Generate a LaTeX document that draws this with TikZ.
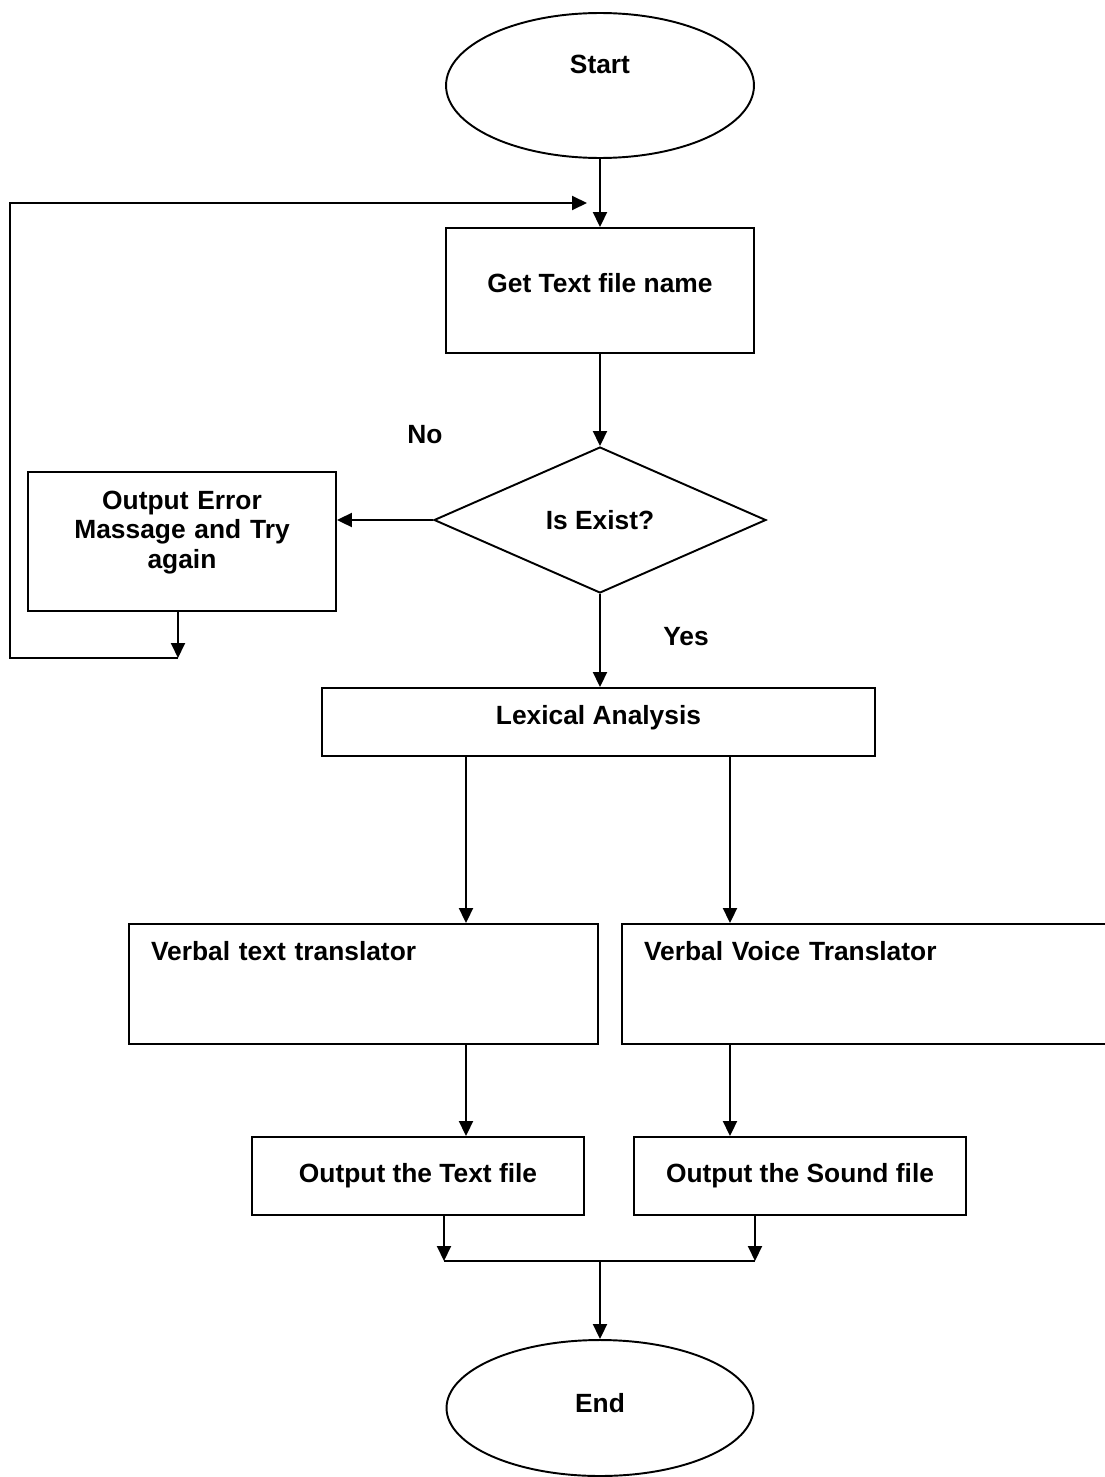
\documentclass[tikz,border=0pt]{standalone}
\usepackage{fontspec}
\setmainfont{Liberation Sans}
\usetikzlibrary{shapes.geometric,arrows.meta,positioning}
\tikzset{
  terminal/.style={
    shape = ellipse,
    draw,
    line width = 1.1pt,
    inner sep = 0pt,
    text height = 10.7pt
  },
}
\tikzset{
  process/.style={
    shape = rectangle,
    draw,
    line width = 1.1pt,
    inner sep = 0pt,
    align = center,
    text height = 10.7pt
  },
}
\tikzset{
  decision/.style={
    shape = diamond,
    draw,
    line width = 1.1pt,
    inner sep = 0pt,
    aspect = 2.27,
    minimum width = 6.64cm,
    minimum height = 2.92cm,
    text height = 10.7pt,
    text depth = 0pt
  },
}
\tikzset{
  translator/.style={
    shape = rectangle,
    draw,
    line width = 1.1pt,
    inner xsep = 0.44cm,
    inner ysep = 0pt,
    align = left,
    minimum height = 2.4cm,
    text height = 10.7pt,
    text depth = 37.6pt
  },
  answer/.style={
    inner sep = 0pt
  },
  flow/.style={
    line width = 1.1pt,
    -{Triangle[length=3mm,width=2.8mm]}
  },
  link/.style={
    line width = 1.1pt
  }
}

\begin{document}
\begin{tikzpicture}[x=0.02cm, y=-0.02cm, font=\fontsize{15}{17}\selectfont\bfseries]
        \useasboundingbox (0,0) rectangle (1105,1477);

        \node[terminal, minimum width=6.16cm, minimum height=2.9cm, text depth=24pt] (start) at (600,85.5) {Start};
        \node[process, minimum width=6.16cm, minimum height=2.5cm, text depth=8.5pt] (getname) at (600,290.5) {Get Text file name};
        \node[decision] (exist) at (600,520) {Is Exist?};
        \node[process, text width=5.8cm, minimum width=6.16cm, minimum height=2.78cm, text depth=47.6pt] (error) at (182,541.5) {Output Error\\ Massage and Try\\ again};
        \node[process, minimum width=11.06cm, minimum height=1.36cm, text depth=8pt] (lexical) at (598.5,722) {Lexical Analysis};
        \node[translator, text width=8.5cm] (vtext) at (363.5,984) {Verbal text translator};
        \node[translator, text width=8.84cm] (vvoice) at (865,984) {Verbal Voice Translator};
        \node[process, minimum width=6.64cm, minimum height=1.56cm, text depth=3.4pt] (otext) at (418,1176) {Output the Text file};
        \node[process, minimum width=6.64cm, minimum height=1.56cm, text depth=3.4pt] (osound) at (800,1176) {Output the Sound file};
        \node[terminal, minimum width=6.14cm, minimum height=2.72cm, text depth=5.7pt] (end) at (600,1408) {End};

        \node[answer] (no) at (425,435) {No};
        \node[answer] (yes) at (686,637) {Yes};

        \coordinate (looptop) at (587,203);
        \coordinate (loopbot) at (178,658);
        \coordinate (loopleft) at (10,658);
        \coordinate (tleft) at (466,0);
        \coordinate (tright) at (730,0);
        \coordinate (jleft) at (444,1261);
        \coordinate (jright) at (755,1261);
        \coordinate (jmid) at (600,1261);

        \draw[flow] (start) -- (getname);
        \draw[flow] (getname) -- (exist);
        \draw[flow] (exist.west) -- (exist.west -| error.east);
        \draw[flow] (error.south -| loopbot) -- (loopbot);
        \draw[flow] (loopbot) -- (loopleft) |- (looptop);
        \draw[flow] (exist.south) -- (exist.south |- lexical.north);
        \draw[flow] (lexical.south -| tleft) -- (vtext.north -| tleft);
        \draw[flow] (lexical.south -| tright) -- (vvoice.north -| tright);
        \draw[flow] (vtext.south -| tleft) -- (otext.north -| tleft);
        \draw[flow] (vvoice.south -| tright) -- (osound.north -| tright);
        \draw[flow] (otext.south -| jleft) -- (jleft);
        \draw[flow] (osound.south -| jright) -- (jright);
        \draw[link] (jleft) -- (jright);
        \draw[flow] (jmid) -- (end);
\end{tikzpicture}
\end{document}
